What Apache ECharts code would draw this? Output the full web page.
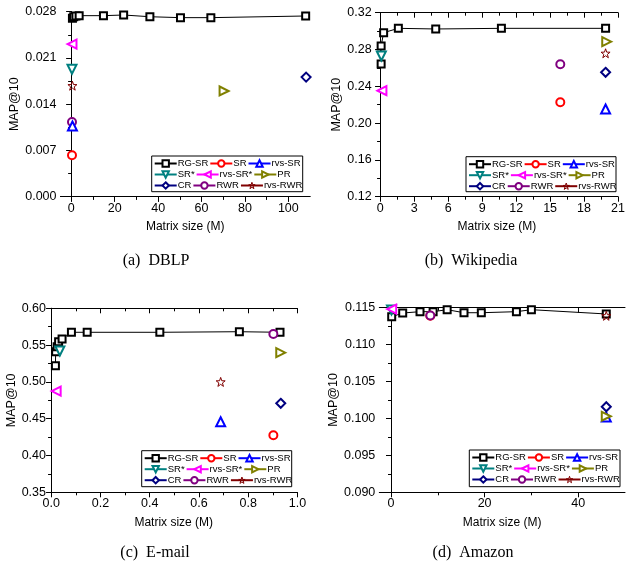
<!DOCTYPE html>
<html><head><meta charset="utf-8">
<script src="https://cdn.jsdelivr.net/npm/echarts@6/dist/echarts.min.js"></script>
<style>html,body{margin:0;padding:0;background:#fff}#c{width:628px;height:567px}</style>
</head><body><div id="c"></div>
<script>
// ---------- DATA ----------
const methods = ['RG-SR','SR','rvs-SR','SR*','rvs-SR*','PR','CR','RWR','rvs-RWR'];
const otherMethods = ['SR','rvs-SR','SR*','rvs-SR*','PR','CR','RWR','rvs-RWR'];

// (a) DBLP
const dblpRgX = [0.5, 1.1, 2.1, 3.6, 14.8, 24.1, 36.2, 50.3, 64.3, 108];
const dblpRgY = [0.0270, 0.02724, 0.02735, 0.0274, 0.0274, 0.0275, 0.02724, 0.0271, 0.0271, 0.02735];
const dblpOtherX = [0.3, 0.5, 0.3, 0.3, 70.4, 108.2, 0.3, 0.5];
const dblpOtherY = [0.00626, 0.0107, 0.0193, 0.0231, 0.0160, 0.0181, 0.0113, 0.0168];
const dblpXTicks = [0, 20, 40, 60, 80, 100];
const dblpYTicks = [0.000, 0.007, 0.014, 0.021, 0.028];

// (b) Wikipedia
const wikiRgX = [0.08, 0.08, 0.3, 1.6, 4.9, 10.7, 19.9];
const wikiRgY = [0.2642, 0.2838, 0.2983, 0.3030, 0.3023, 0.3030, 0.3030];
const wikiOtherX = [15.9, 19.9, 0.1, 0.15, 20.0, 19.9, 15.9, 19.9];
const wikiOtherY = [0.2226, 0.2153, 0.2729, 0.2352, 0.2885, 0.2552, 0.2639, 0.2759];
const wikiXTicks = [0, 3, 6, 9, 12, 15, 18, 21];
const wikiYTicks = [0.12, 0.16, 0.20, 0.24, 0.28, 0.32];

// (c) E-mail
const emailRgX = [0.017, 0.018, 0.024, 0.03, 0.044, 0.082, 0.146, 0.441, 0.764, 0.929];
const emailRgY = [0.522, 0.541, 0.5478, 0.5546, 0.5583, 0.5674, 0.5674, 0.5674, 0.5682, 0.5674];
const emailOtherX = [0.902, 0.688, 0.035, 0.02, 0.932, 0.932, 0.902, 0.688];
const emailOtherY = [0.4276, 0.4459, 0.542, 0.4876, 0.5397, 0.4709, 0.565, 0.50];
const emailXTicks = [0.0, 0.2, 0.4, 0.6, 0.8, 1.0];
const emailYTicks = [0.35, 0.40, 0.45, 0.50, 0.55, 0.60];

// (d) Amazon
const amzRgX = [0.15, 2.5, 6.2, 9.0, 12.0, 15.6, 19.3, 26.8, 30.0, 46.0];
const amzRgY = [0.11378, 0.11428, 0.11446, 0.11446, 0.11473, 0.11432, 0.11432, 0.11446, 0.11473, 0.11415];
const amzOtherX = [8.4, 46.0, 0.1, 0.15, 46.0, 46.0, 8.4, 46.0];
const amzOtherY = [0.1139, 0.1002, 0.1147, 0.11482, 0.1003, 0.10159, 0.11395, 0.1139];
const amzXTicks = [0, 20, 40];
const amzYTicks = [0.090, 0.095, 0.100, 0.105, 0.110, 0.115];

const captions = ['(a)  DBLP', '(b)  Wikipedia', '(c)  E-mail', '(d)  Amazon'];
const xTitle = 'Matrix size (M)';
const yTitle = 'MAP@10';

// ---------- STYLE / LAYOUT ----------
const STAR = 'path://M0,-10L2.35,-3.24L9.51,-3.09L3.8,1.24L5.88,8.09L0,4L-5.88,8.09L-3.8,1.24L-9.51,-3.09L-2.35,-3.24Z';
const styleOf = {
  'RG-SR':  {c:'#000000', s:'emptyRect', r:0, z:6},
  'SR':     {c:'#ff0000', s:'emptyCircle', r:0, z:8},
  'rvs-SR': {c:'#0000ff', s:'emptyTriangle', r:0, z:9},
  'SR*':    {c:'#008080', s:'emptyTriangle', r:180, z:9},
  'rvs-SR*':{c:'#ff00ff', s:'emptyTriangle', r:90, z:9},
  'PR':     {c:'#808000', s:'emptyTriangle', r:-90, z:9},
  'CR':     {c:'#000080', s:'emptyDiamond', r:0, z:9},
  'RWR':    {c:'#800080', s:'emptyCircle', r:0, z:8},
  'rvs-RWR':{c:'#800000', s:STAR, r:0, z:9, star:true}
};
const FONT = 'Liberation Sans';
const panels = [
  {g:{left:60.5, top:11.7, width:249.5, height:185}, xmin:-5, xmax:110, ymin:0, ymax:0.028,
   xt:dblpXTicks, yt:dblpYTicks, xd:0, yd:3, rgX:dblpRgX, rgY:dblpRgY, oX:dblpOtherX, oY:dblpOtherY,
   leg:{x:151.7, y:156, w:151, h:35.7}, cap:{x:156, y:262}, ng:34},
  {g:{left:375.7, top:12.7, width:245.3, height:184}, xmin:-0.4, xmax:21, ymin:0.12, ymax:0.32,
   xt:wikiXTicks, yt:wikiYTicks, xd:0, yd:2, rgX:wikiRgX, rgY:wikiRgY, oX:wikiOtherX, oY:wikiOtherY,
   leg:{x:466, y:156.7, w:150, h:35}, cap:{x:471, y:262}, ng:30},
  {g:{left:50, top:308.3, width:247.5, height:184}, xmin:-0.005, xmax:1.0, ymin:0.35, ymax:0.60,
   xt:emailXTicks, yt:emailYTicks, xd:1, yd:2, rgX:emailRgX, rgY:emailRgY, oX:emailOtherX, oY:emailOtherY,
   leg:{x:141.7, y:450.7, w:150, h:36}, cap:{x:155, y:554}, ng:28},
  {g:{left:379.3, top:307.7, width:245.7, height:184.6}, xmin:-2.5, xmax:50, ymin:0.090, ymax:0.115,
   xt:amzXTicks, yt:amzYTicks, xd:0, yd:3, rgX:amzRgX, rgY:amzRgY, oX:amzOtherX, oY:amzOtherY,
   leg:{x:469.3, y:450, w:150.7, h:36.7}, cap:{x:473, y:554}, ng:35}
];

function minorsOf(t){ const m=[]; for(let i=0;i<t.length-1;i++) m.push((t[i]+t[i+1])/2); return m; }

const grid=[], xAxis=[], yAxis=[], series=[], legend=[], graphic=[], title=[];
panels.forEach((p,pi)=>{
  grid.push(Object.assign({containLabel:false}, p.g));
  const step = p.xt[1]-p.xt[0];
  const lastHalf = p.xt[p.xt.length-1] + step/2;
  const xm = minorsOf(p.xt).concat(lastHalf < p.xmax ? [lastHalf] : []);
  const ym = minorsOf(p.yt);
  const line = {show:true, lineStyle:{color:'#000', width:1}};
  const base = (pos, min, max) => ({gridIndex:pi, type:'value', position:pos, min, max, splitLine:{show:false}, axisPointer:{show:false}});
  xAxis.push(Object.assign(base('bottom', p.xmin, p.xmax), {
    axisLine: line, name: xTitle, nameLocation:'middle', nameGap:24,
    nameTextStyle:{fontFamily:FONT, fontSize:12, color:'#000'},
    axisTick:{show:true, inside:false, length:5, customValues:p.xt, lineStyle:{color:'#000'}},
    axisLabel:{show:true, margin:5, customValues:p.xt, fontFamily:FONT, fontSize:12.5, color:'#000', formatter:v=>Number(v).toFixed(p.xd)}
  }));
  xAxis.push(Object.assign(base('bottom', p.xmin, p.xmax), {
    axisLine:{show:false}, axisTick:{show:true, inside:false, length:3, customValues:xm, lineStyle:{color:'#000'}}, axisLabel:{show:false}
  }));
  xAxis.push(Object.assign(base('top', p.xmin, p.xmax), {
    axisLine: line, axisTick:{show:true, inside:true, length:5, customValues:p.xt, lineStyle:{color:'#000'}}, axisLabel:{show:false}
  }));
  xAxis.push(Object.assign(base('top', p.xmin, p.xmax), {
    axisLine:{show:false}, axisTick:{show:true, inside:true, length:3, customValues:xm, lineStyle:{color:'#000'}}, axisLabel:{show:false}
  }));
  yAxis.push(Object.assign(base('left', p.ymin, p.ymax), {
    axisLine: line, name: yTitle, nameLocation:'middle', nameGap:p.ng, nameRotate:90,
    nameTextStyle:{fontFamily:FONT, fontSize:12.5, color:'#000'},
    axisTick:{show:true, inside:false, length:5, customValues:p.yt, lineStyle:{color:'#000'}},
    axisLabel:{show:true, margin:4, customValues:p.yt, fontFamily:FONT, fontSize:12.5, color:'#000', formatter:v=>Number(v).toFixed(p.yd)}
  }));
  yAxis.push(Object.assign(base('left', p.ymin, p.ymax), {
    axisLine:{show:false}, axisTick:{show:true, inside:false, length:3, customValues:ym, lineStyle:{color:'#000'}}, axisLabel:{show:false}
  }));
  yAxis.push(Object.assign(base('right', p.ymin, p.ymax), {
    axisLine: line, axisTick:{show:true, inside:true, length:5, customValues:p.yt, lineStyle:{color:'#000'}}, axisLabel:{show:false}
  }));
  yAxis.push(Object.assign(base('right', p.ymin, p.ymax), {
    axisLine:{show:false}, axisTick:{show:true, inside:true, length:3, customValues:ym, lineStyle:{color:'#000'}}, axisLabel:{show:false}
  }));

  const mk = (name, data) => {
    const st = styleOf[name];
    const s = {
      type:'line', name, xAxisIndex:pi*4, yAxisIndex:pi*4, data,
      symbol:st.s, symbolRotate:st.r, symbolSize: name==='RG-SR'?7:(st.s==='emptyCircle'?8:9),
      showSymbol:true, z:st.z, clip:false,
      lineStyle:{color:st.c, width:1}, itemStyle:{color:st.c, borderWidth:1}, emphasis:{disabled:true}
    };
    if (st.star) s.itemStyle = {color:'rgba(255,255,255,0)', borderColor:st.c, borderWidth:1};
    return s;
  };
  series.push(mk('RG-SR', p.rgX.map((x,i)=>[x, p.rgY[i]])));
  otherMethods.forEach((m,i)=> series.push(mk(m, [[p.oX[i], p.oY[i]]])));

  graphic.push({type:'rect', shape:{x:p.leg.x, y:p.leg.y, width:p.leg.w, height:p.leg.h}, style:{fill:'#fff', stroke:'#000', lineWidth:1}, z:50});
  [methods.slice(0,3), methods.slice(3,6), methods.slice(6,9)].forEach((row,ri)=>{
    legend.push({data:row, left:p.leg.x+2, top:p.leg.y+2.5+ri*11, orient:'horizontal', itemWidth:22, itemHeight:8, itemGap:1,
      padding:0, selectedMode:false, z:60, itemStyle:{borderWidth:1},
      textStyle:{fontFamily:FONT, fontSize:9.5, color:'#000', padding:[0,0,0,-4]}});
  });
  title.push({text:captions[pi], left:p.cap.x, top:p.cap.y-9, textAlign:'center', padding:0,
    textStyle:{fontFamily:'Liberation Serif', fontSize:16, fontWeight:'normal', color:'#000'}});
});

const chart = echarts.init(document.getElementById('c'), null, {renderer:'canvas'});
chart.setOption({animation:false, backgroundColor:'#fff', grid, xAxis, yAxis, series, legend, graphic, title});
</script></body></html>
